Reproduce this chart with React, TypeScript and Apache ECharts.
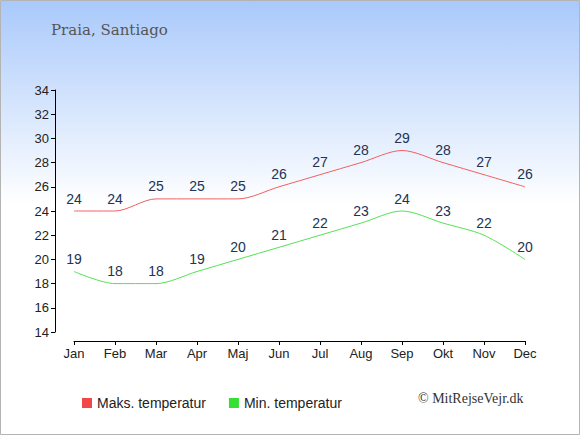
import React, { useEffect, useRef } from "react";
import * as echarts from "echarts";

const months = ["Jan", "Feb", "Mar", "Apr", "Maj", "Jun", "Jul", "Aug", "Sep", "Okt", "Nov", "Dec"];
const maxTemp = [24, 24, 25, 25, 25, 26, 27, 28, 29, 28, 27, 26];
const minTemp = [19, 18, 18, 19, 20, 21, 22, 23, 24, 23, 22, 20];
const titleText = "Praia, Santiago";
const maxName = "Maks. temperatur";
const minName = "Min. temperatur";
const copyright = "© MitRejseVejr.dk";

export default function App() {
  const ref = useRef<HTMLDivElement>(null);
  useEffect(() => {
    document.body.style.margin = "0";
    const chart = echarts.init(ref.current!, null, { renderer: "svg" });
    const sans = "'Liberation Sans', Arial, sans-serif";
    const serif = "'DejaVu Serif', serif";
    const labelCfg = {
      show: true,
      position: "top",
      distance: 5,
      fontFamily: sans,
      fontSize: 14,
      color: "#223355",
    };
    chart.setOption({
      animation: false,
      graphic: [
        {
          type: "rect",
          shape: { x: 0.5, y: 0.5, width: 579, height: 434 },
          style: {
            fill: new echarts.graphic.LinearGradient(0, 0, 0, 1, [
              { offset: 0, color: "#a9c9fb" },
              { offset: 0.47, color: "#ffffff" },
              { offset: 1, color: "#ffffff" },
            ]),
            stroke: "#b4b4b4",
            lineWidth: 1,
          },
          z: -10,
          silent: true,
        },
        {
          type: "text",
          left: 51,
          top: 22,
          style: { text: titleText, font: `15px ${serif}`, fill: "#555555" },
        },
        {
          type: "text",
          left: 418,
          top: 391,
          style: { text: copyright, font: `14px 'Liberation Serif', serif`, fill: "#333333" },
        },
      ],
      legend: {
        left: 77,
        top: 391,
        itemWidth: 10,
        itemHeight: 10,
        itemGap: 23,
        icon: "rect",
        textStyle: { fontFamily: sans, fontSize: 14, color: "#222222" },
        data: [
          { name: maxName, itemStyle: { color: "#f04848", opacity: 1 } },
          { name: minName, itemStyle: { color: "#33e033", opacity: 1 } },
        ],
      },
      grid: { left: 74, right: 55, top: 90, bottom: 103 },
      xAxis: {
        type: "category",
        data: months,
        boundaryGap: false,
        offset: 9,
        axisLine: { lineStyle: { color: "#000", width: 1 } },
        axisTick: { alignWithLabel: true, length: 4, lineStyle: { color: "#000" } },
        axisLabel: { fontFamily: sans, fontSize: 13, color: "#222", margin: 6 },
        splitLine: { show: false },
      },
      yAxis: {
        type: "value",
        min: 14,
        max: 34,
        interval: 2,
        offset: 19,
        axisLine: { show: true, lineStyle: { color: "#000", width: 1 } },
        axisTick: { show: true, length: 4, lineStyle: { color: "#000" } },
        axisLabel: { fontFamily: sans, fontSize: 13, color: "#222", margin: 6 },
        splitLine: { show: false },
      },
      series: [
        {
          name: maxName,
          type: "line",
          data: maxTemp,
          smooth: 0.3,
          symbol: "circle",
          symbolSize: 1,
          lineStyle: { color: "#f06060", width: 1 },
          itemStyle: { color: "rgba(0,0,0,0)" },
          label: labelCfg,
        },
        {
          name: minName,
          type: "line",
          data: minTemp,
          smooth: 0.3,
          symbol: "circle",
          symbolSize: 1,
          lineStyle: { color: "#55e055", width: 1 },
          itemStyle: { color: "rgba(0,0,0,0)" },
          label: labelCfg,
        },
      ],
    });
    return () => chart.dispose();
  }, []);
  return <div ref={ref} style={{ width: 580, height: 435 }} />;
}
